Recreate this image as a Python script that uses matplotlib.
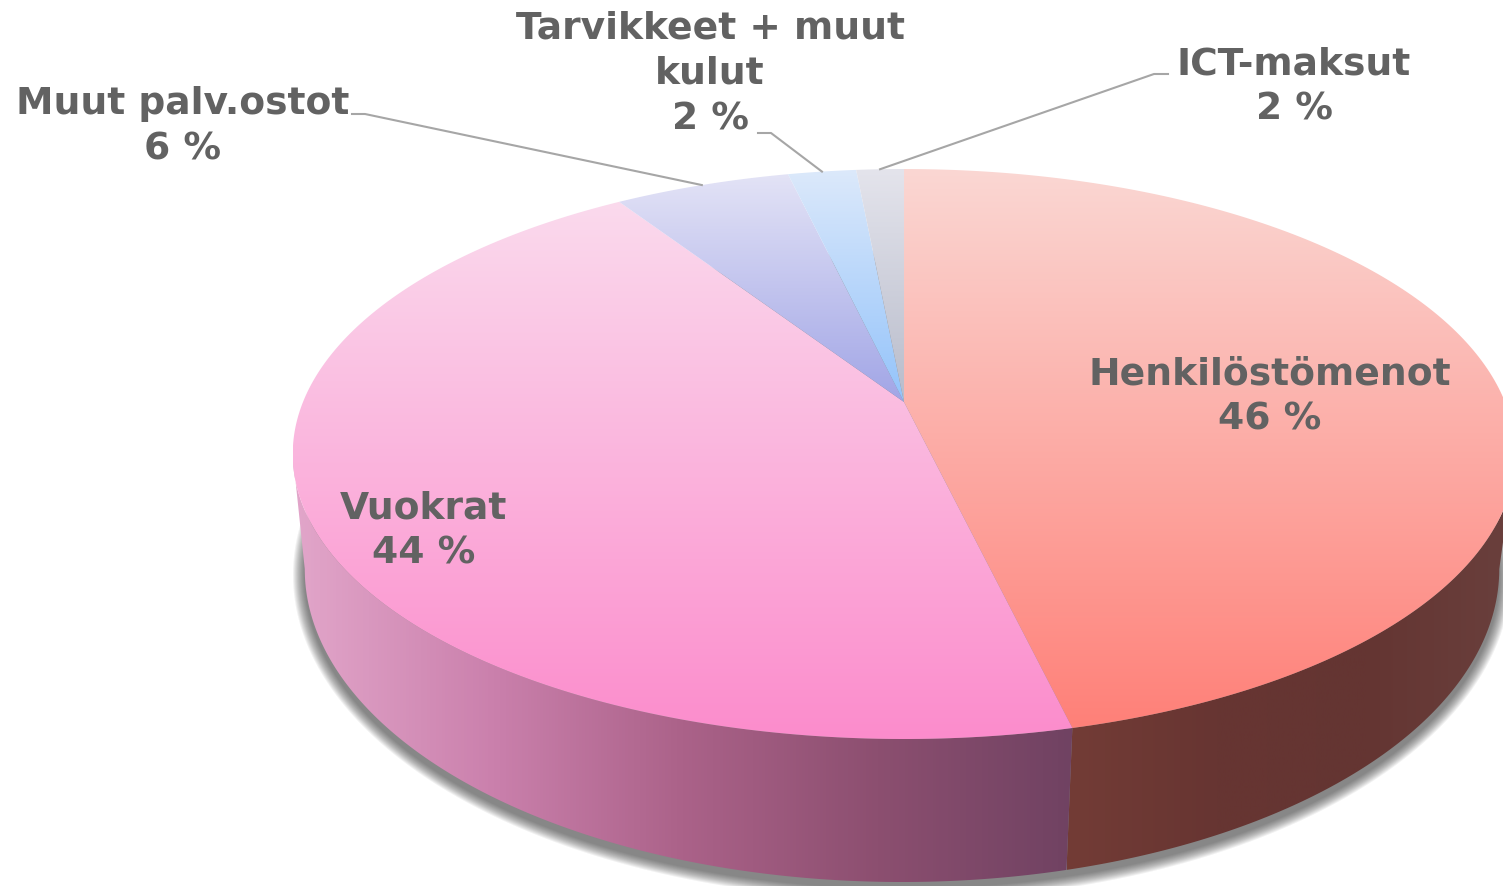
import numpy as np
import matplotlib
matplotlib.use('Agg')
import matplotlib.pyplot as plt
from matplotlib.colors import LinearSegmentedColormap, to_rgb
from matplotlib.patches import Polygon

# data
labels = ['Henkilöstömenot\n46 %', 'Vuokrat\n44 %', 'Muut palv.ostot\n6 %',
          'Tarvikkeet + muut\nkulut\n2 %', 'ICT-maksut\n2 %']
values = [46.3, 44.5, 5.55, 2.15, 1.5]
top_colors = ['#fad7d3', '#fadaed', '#e3e3f6', '#dce9fa', '#e4e4ec']
bot_colors = ['#ff8078', '#fc8ccc', '#a1a5e6', '#93c3fb', '#b8bccb']

W, H = 1503, 887
# top disk, perspective
apex_x, apex_y = 904, 403
A, B, k = 601, 275.5, 0.1825
# ellipses in pixels
top_c = (904, 455)
top_ab = (611, 285)
bot_c = (902, 570)
bot_ab = (597, 313)


def project(ang):
    X, Y = np.sin(ang), np.cos(ang)
    d = 1 + k * Y
    return apex_x + A * X / d, apex_y - B * Y / d


def project_bottom(ang):
    x, y = project(ang)
    return (bot_c[0] + (x - top_c[0]) * bot_ab[0] / top_ab[0],
            bot_c[1] + (y - top_c[1]) * bot_ab[1] / top_ab[1])


def gradient(ax, poly, stops, horizontal=False):
    cmap = LinearSegmentedColormap.from_list('g', [to_rgb(c) for c in stops])
    xy = poly.get_xy()
    x0, x1 = xy[:, 0].min(), xy[:, 0].max()
    y0, y1 = xy[:, 1].min(), xy[:, 1].max()
    g = np.linspace(0, 1, 256)
    g = g[None, :] if horizontal else g[:, None]
    poly.set_facecolor('none')
    ax.add_patch(poly)
    im = ax.imshow(g, cmap=cmap, extent=(x0, x1, y1, y0), aspect='auto',
                   origin='upper', zorder=poly.get_zorder())
    im.set_clip_path(poly)


fig = plt.figure(figsize=(W / 100, H / 100), dpi=100)
ax = fig.add_axes([0, 0, 1, 1])
ax.axis('off')

# shadow under the pie
for d in np.arange(12, 0, -1):
    t = np.linspace(0, 2 * np.pi, 300)
    ax.fill(bot_c[0] + (bot_ab[0] + d) * np.sin(t),
            bot_c[1] + 6 + (bot_ab[1] + d) * np.cos(t),
            color='#303030', alpha=0.065, lw=0, zorder=1)

edges = np.cumsum([0] + values) / sum(values) * 2 * np.pi

# side wall: Vuokrat left of the seam, Henkilöstömenot right of it
seam = edges[1]
tangent = np.arccos(-k)
t_right = np.linspace(seam, tangent, 120)
t_left = np.linspace(seam, 2 * np.pi - tangent, 200)


def wall(ts):
    top = np.array([project(a) for a in ts])
    bot = np.array([project_bottom(a) for a in ts])
    return np.vstack([top, bot[::-1]])


gradient(ax, Polygon(wall(t_right), closed=True, lw=0, zorder=2),
         ['#733c36', '#673532', '#643532', '#6a403d'], horizontal=True)
gradient(ax, Polygon(wall(t_left), closed=True, lw=0, zorder=2),
         ['#e2a6ca', '#cb81ad', '#ab6289', '#8c4f70', '#704262'], horizontal=True)

# top face
for i in range(len(values)):
    ts = np.linspace(edges[i], edges[i + 1], 200)
    rim = np.array([project(a) for a in ts])
    pts = np.vstack([[apex_x, apex_y], rim])
    gradient(ax, Polygon(pts, closed=True, lw=0, zorder=3),
             [top_colors[i], bot_colors[i]])

# leader lines, from the middle of the small slices
mids = (edges[:-1] + edges[1:]) / 2
leaders = {2: [(352, 115), (365, 115)], 3: [(758, 134), (771, 134)], 4: [(1168, 75), (1154, 75)]}
for i, pts in leaders.items():
    xs = [p[0] for p in pts] + [project(mids[i])[0]]
    ys = [p[1] for p in pts] + [project(mids[i])[1]]
    ax.plot(xs, ys, color='#a6a6a6', lw=1.5, zorder=4)

# labels
label_pos = [(1270, 397), (424, 531), (183, 127), (710, 74), (1294, 87)]
for s, (x, y) in zip(labels, label_pos):
    ax.text(x, y, s, ha='center', va='center', fontsize=27.1, fontweight='bold',
            color='#626262', family='DejaVu Sans', linespacing=1.34, zorder=5)

ax.set_xlim(0, W)
ax.set_ylim(H, 0)
fig.savefig('out.png', dpi=100, facecolor='white')
